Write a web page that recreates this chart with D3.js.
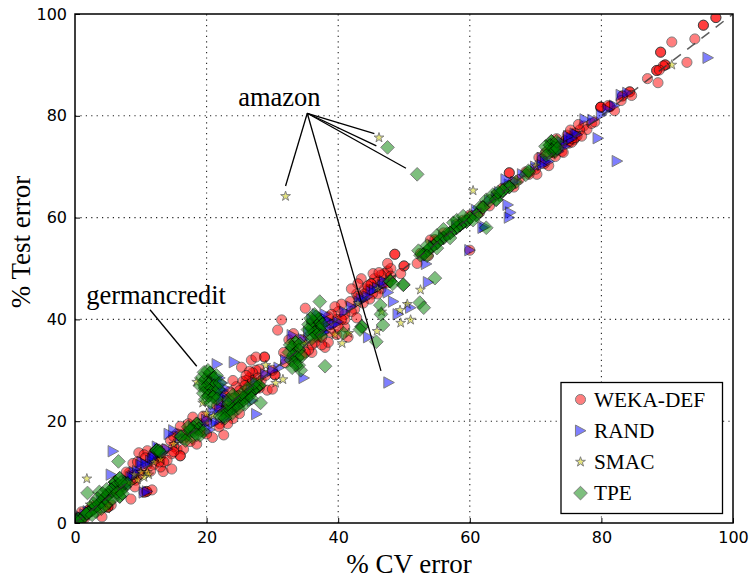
<!DOCTYPE html>
<html>
<head>
<meta charset="utf-8">
<script src="https://cdn.jsdelivr.net/npm/d3@7"></script>
<style>
  html, body { margin: 0; padding: 0; background: #fff; }
  svg { display: block; }
</style>
</head>
<body>
<svg width="751" height="578"></svg>
<script>
// [% CV error, % Test error]. Repeats = darker spots
var wekaDef = [
  [97.4,99.3],[97.4,99.3],[95.5,97.8],[95.5,97.8],[90.7,94.5],[94.2,95.1],[93,90.5],[89,92.5],[89,92.5],[89.7,90],[89.7,90],[89.4,89.8],
  [88.4,88.9],[88.4,88.9],[88.8,89],[87,87.3],[88.6,86.5],[84.3,84.7],[84.3,84.7],[83.2,83.9],[83.2,83.9],[84.6,84],[83,83],[81.3,81.8],[81.3,81.8],
  [79.9,81.7],[79.9,81.7],[79.9,81.7],[82,81],[81,82],[77.3,78],[77.8,77.3],[78.5,78.5],[76.7,77.2],[79,78.8],
  [72.7,72.8],[73.5,74],[74,73],[74.4,75],[75,74.6],[75.2,75.9],[75.8,75.3],[76,76.6],[76.3,76],[74.8,76.2],[75.5,74.8],[75,75],[75.5,75.5],[76,75.7],[74,74.5],[73,72],
  [76.5,78.3],[75.3,77.2],[77,76],[74.2,72.8],[73.2,75.5],[71.5,72.8],[70.5,71.8],[72,70.2],[70.2,68.5],
  [71.3,70.6],[71,71.5],[70,69.5],[69,68.5],[68.5,69],[67.5,67.5],[66.5,67],[66,68.8],[66,68.8],[65,65.8],[64,64.5],[66.7,66],
  [62,62.2],[63,62.3],[61.5,61],[60,60.5],[59,59.5],[58,58.7],[56,57],[55,55.5],[54,55.6],[54.7,55.7],[60,53.6],[52.5,53],[53.7,52.5],[52,51],
  [50,50.5],[50,50.5],[48.6,52.8],[48.6,52.8],[47.5,49.5],[48,50],[47,49],[46.5,48.7],[46,47.5],[45.5,48],[45,47],[45,47],[46.5,46],[46,45],[44.5,45.8],[44,46],[44.5,46.6],[44,45],
  [47.5,51],[49.5,49],[48,48.5],[46.8,47],[45.3,49],[43.5,48],[43,47],[45.2,45],[44.8,44],[43.8,43.2],[42.8,45],[42,46],[47.5,47.2],[46.2,49.2],
  [43,44.5],[42.5,42],[42,41.5],[41.8,43.5],[41,41],[40.5,43],[40,41.5],[39.8,40],[39.5,42.5],[39,41],[38.5,40.5],[38,39.5],[37.5,39],[41.5,36.5],[41,38.5],[39.8,37],[38,34.5],[38.5,35.5],
  [41,40],[42.8,40.3],[40.5,40],[39,39],[40,38.5],[38.8,37.5],[37.5,35],[36.8,36.5],[36,33.5],
  [37.5,36.5],[36.5,35.5],[36,35],[35,42.2],[35.5,34],[35,33.5],[34.5,33],[31.4,39.9],[30.8,37.9],[33.6,34.8],[32.5,36],[33.2,37.2],[34.5,36],[31.7,33.5],[32,31.5],
  [28.8,32.6],[28.8,32.6],[30.4,29.1],[30.4,29.1],[25.3,30.6],[26.8,32],[27.5,32.6],[29.2,26.1],[30,26.3],[28,30.2],[27.5,30],[27,29.5],[26.5,28.5],[26,28],[25.5,27.8],[25.8,27],[27,28],[27.8,28.5],[24.5,26.8],[25,26],[28.3,28],[29,29],[30,30],
  [26.5,29.8],[26,29],[27.2,26.8],[28,26.5],[24,28],[24.8,25],[26.2,26.2],[23.5,25.8],[22.5,24],[24,20.5],[23.2,19.5],[25,21.5],
  [22.8,25],[23,23],[24,24.5],[22,22.5],[21.5,23],[22,19.5],[21.9,18.9],[20.9,16.8],[22.6,17.3],[20,20],[19.5,21],[17.9,20.8],[18.5,15.5],[16.5,16.5],[18,18.5],[19,19.5],[17,18],[15.5,14.5],[15,15],
  [17.2,19.5],[16,19],[15.5,17.5],[14.5,16.2],[15,17],[20,17.5],[19,18],[17.5,16],[16.5,14.5],
  [16,13.2],[16,13.2],[14.7,13.6],[15,14],[13.4,10.1],[14.7,10.6],[13,13],[13.5,14.5],[12.5,13],[12,13.5],[11,14.2],[9.7,13.8],[10.5,13.4],[8.8,11.7],[9.5,12],[10,10.5],[11,11.5],[12,11.5],[13,11],
  [14,12.3],[13.5,12],[12.8,12],[11.5,10.2],[10.7,12.8],[9.8,9.5],[8.2,9.8],[7.8,10],[9.2,8.4],
  [10.9,6.2],[10.9,6.2],[11.7,6.5],[10.5,6],[9.1,7.1],[8.5,4.7],[8.7,8.5],[9,9.5],[7.7,8],[7,7],[6.5,6.5],[6,6.4],[5,5.5],[5.5,3.5],
  [5,3.1],[5,3.1],[4.1,1.2],[3.5,3],[3,3.5],[2.2,2.6],[2,2.5],[1,2.2],[1.5,1],[0.6,0.8],[0.3,0.4],[0.8,0.4],[0.2,1]
];
var rand = [
  [96.2,91.4],[82.4,71.1],[79.5,75.6],[77.5,79.3],[78.7,79.2],[80,80.2],[83,84.1],[82,82],[84,84.5],[81,81.2],[76,76.5],[75,75.2],[74,74.8],[73.5,73],[72,71],[71,71.7],[70,70],[68,68.5],
  [76.3,76.3],[75.5,75.5],[75,76],[74.5,74],[73,73.5],[71.5,71],[71,70.3],[67,67],[66,66.5],[64.5,65],
  [65.8,62.5],[66.2,61],[66,60],[65.5,67.5],[64,64],[62.3,58.2],[62,58],[60,53.6],[63,63.3],[61,61.5],[59,59],[58,58.5],[56,56],[54.5,54.5],[53.7,47.3],[53.4,50.9],
  [51,42.3],[49.1,41],[48.4,43.5],[47.6,45.3],[47.7,27.6],[44.6,36.5],[46.7,46.7],[46,46.2],[45,45.5],[44,44],[43.2,43.5],[42,42.5],[41,41.5],[40,39.5],[39.5,39],[38.5,38.5],[38,37.5],[37.5,38.8],[37.2,40],
  [45.5,45.8],[44.5,44.5],[43.5,44],[47,47.5],[38.5,39.5],[38.2,40],[37.8,37.5],[38,41],
  [36.8,41],[36,40],[35.5,37.5],[34.8,28.5],[33,36.9],[34.7,36.1],[33.5,33],[32,32],[31,30.5],[30,30],[29,29.2],[27.5,27.5],[26.8,26],[27.6,21.4],[27,24],[24.2,31.6],[21.6,31.2],
  [23,20.5],[25,23],[24,22],[22.5,26],[22,28.5],[21.5,28],[21.8,27],[22,25],[22.3,23.5],[21,22],[20,20.3],[21,19.5],[19.5,19.3],[18,18.8],[16,17],[15,18.2],[14.3,17.5],[14,14.5],
  [22.4,27.5],[22.8,26.5],[22.5,25],[22,26.2],[23,22],[22,22.5],[23.2,24],[21.5,20],[20.5,18.3],
  [12.8,14.5],[12.5,15],[13.3,13.8],[12.2,13.5],[11.5,12.2],[10.2,12],[10,11.4],[9,10],[8.5,9],[10.5,6],[11,6.2],[5.8,14.1],[7.5,7.5],[6.8,8],[6,7],[5.5,9.5],[5,5.3],[4,4.4],[3,3.1],[2,2.3],[1,1.2],[0.5,0.4],
  [13,14],[11.8,12.6],[12,13],[10.8,11.5],[9.5,10.2],[8.8,9.2],[8,8.3],[7.8,7.2],[0.8,0.8],[1.5,1.7]
];
var smac = [
  [90.7,90],[46.2,75.7],[32,64.2],[60.5,65.3],[52.5,45.8],[49.4,41.8],[50.5,43],[51,39.9],[49.5,39.3],[45.9,37.7],[46.6,41.5],[40.6,35.3],[41.6,37.3],[39.5,37],[31.6,28.2],[30.5,27.5],[18.5,27.7],[19.4,23.6],[1.8,8.7],
  [72.5,72.3],[70,70.2],[66,66.3],[64,64],[61,61],[58,58],[56,56.2],[53,53],[48,48.2],[46,46],[43,43.2],[37,37],[35,35.2],[33,32.5],[29,31],[28,28],[26,25.5],[25,25],[23,23.5],[21,21],[20,21.5],
  [17,17],[16,16.5],[15,15.5],[13,12.5],[12,12],[11,10],[11.2,9.5],[10.5,9],[10,10],[9.5,8.5],[9,9.5],[8,8],[7,7],[5,3.3],[4.8,2.8],[4,4],[2.3,3.6],[2,2],[1,1]
];
var tpe = [
  [47.5,73.8],[52,68.5],[37.2,43.5],[38,30.8],[28.2,23.6],[40.8,37.3],[43.6,38.6],[43.6,38.6],[43.3,38],[45.8,35.6],[46.4,42.8],[46.5,41],[46.8,38.9],[49.9,46.8],[49.9,46.8],[52.4,43.3],[53,42.3],[54.7,48.1],[47.9,47.5],[47.9,47.5],[48.3,47],
  [72.4,75],[72.4,75],[72.2,74.2],[72.2,74.2],[73,74.2],[72.5,73.2],[72.5,73.2],[73,73],[71.8,73],[72.8,73.7],[69,69],[68.5,68.4],[68.9,69.2],
  [71.5,74],[73.2,75],[71.6,72.2],[73.3,73.6],[62.5,63.5],[63.5,64.5],[64.5,64.5],[65.5,65.8],[67,67],[61.5,62],
  [66,66],[66,66],[65,65.3],[65,65.3],[64,63.5],[64,63.5],[63,63.3],[62.5,58],[62,62],[62,62],[64.3,65],[61,60.5],[61,60.5],
  [60,60],[60,60],[59.5,59.2],[59.5,59.2],[59,59],[58.5,58.5],[58.5,58.5],[58,58],[58,58],[57.5,57.5],[57,57],[57,57],[56.5,56.8],[56,56],[56,56],[55.5,55.7],[55,55],[55,55],[54.5,54.5],[54,54],[54,54],[53.5,53.5],[53,52.8],[53,52.8],[52.5,52.6],[58,59.5],[56,57.7],
  [59,60.3],[57.5,59],[55,56.5],[60.5,59.5],[57,56],[55,54],[53.5,54.5],[52.2,53.5],[53.5,52.5],
  [37,40],[37,40],[36.2,39.5],[36.2,39.5],[36.8,38.8],[36.8,38.8],[36,38.2],[36,38.2],[37.2,38],[37.2,38],[36.4,37.4],[36.4,37.4],[35.8,37],[36.8,37],
  [35.5,39],[35.4,38],[37.6,39],[36.6,40.5],[37.4,36.8],[36,36.2],[36.4,41],[35.8,40.2],
  [33.5,35.5],[33.5,35.5],[33,34.5],[33,34.5],[34,34],[34,34],[33.2,33],[33.2,33],[33.8,32.5],[33.8,32.5],[32.8,32],[33.4,31.5],[34.3,30],[34,31],
  [33.6,31],[32.5,33.5],[34.5,32.8],[32.7,35],[34.2,35.2],[33,30.5],
  [20.5,29.5],[20.5,29.5],[21,28.5],[21,28.5],[19.8,28.2],[19.8,28.2],[20.3,27.3],[20.3,27.3],[21.2,27],[21.2,27],[19.8,26.5],[19.8,26.5],[20.5,26],[20.5,26],[21.3,25.5],[20.3,25],[20.3,25],[21,24.8],[21,24.8],[19.7,27],[21.5,29],
  [19,27],[19.2,28.5],[19.5,25.5],[21.8,26.3],[22,27.5],[20.2,30],[19.6,29.6],[21.6,24.4],[19.8,24.3],[20.6,23.6],
  [28,27],[28,27],[27.5,26.5],[27.5,26.5],[27,26],[27,26],[26.5,25.5],[26.5,25],[26,25],[26,24.5],[25.5,24.5],[25.5,24],[25,24],[25,23.5],[24.5,23.5],[24.5,23],[24,23],[24,22.5],[23.5,22.5],[23.5,22],[23,22],[23,21.5],[22.5,21.5],[22.5,21],[22,21],
  [27.2,27.4],[26.2,26.5],[25.2,25.3],[24.2,24.5],[23.3,23.4],[26.8,24.5],[25.8,23.3],[24.8,22.5],[23.8,21.4],[22.8,20.6],[23.3,24.2],[24,25.2],
  [18.5,19.5],[18.5,19.5],[18.8,18.5],[18.8,18.5],[18,18.8],[18,18],[17.5,18.2],[17.5,18.2],[17,17.2],[16.1,17],[16.1,17],[19.5,18],[12.4,14.3],[12.4,14.3],[12.4,14.3],[13,13.8],[12.8,14.2],
  [17.2,18.9],[19,17.2],[17.8,16.8],[18.5,17.3],[16.8,16.2],
  [6.6,12.1],[1.9,5.9],[3.7,6.1],[6.1,8],[6.1,8],[6.1,8],[6.8,5.2],[6.8,5.2],[6.8,8.8],[6.8,8.8],[6,7],[5.5,6.5],[5.5,6.5],[5,5.5],[5,5.5],[4.5,5],[4.5,5],[4,4.2],[4,4.2],[3.5,3.5],[3.5,3.5],[3,3],[3,3],[2.5,2.5],[2.5,2.5],[2,2],[2,2],[1.7,1.8],[1.7,1.8],
  [7.5,7],[7,6.5],[7.5,7.8],[8,7.8],[0.5,0.8],[0.5,0.8],[0.8,0.5],[0.8,0.5],[0.3,0.3],
  [5.8,4.8],[5.2,4.2],[4.6,3.4],[4,2.8],[3.2,2.2],[2.6,1.6],[4.8,6.6],[4.2,5.8],[3.4,4.8],[2.8,3.8],[6.4,6],[7.2,5.8],[7,8]
];
var seriesNames = ["WEKA-DEF", "RAND", "SMAC", "TPE"];
var tickValues = [0, 20, 40, 60, 80, 100];

// annotation labels and leader lines, in data units
var amazonLabel = [24.8, 81.9];
var amazonFrom = [35.3, 80.5];
var amazonTo = [[45.5,76.5],[45.8,74.1],[50.3,69.7],[32,66.2],[46.5,29.9]];
var germanLabel = [1.7, 43];
var germanFrom = [11.4, 41.9];
var germanTo = [[18.5,30.8]];

var svg = d3.select("svg");
var margin = { left: 75, right: 18, top: 14, bottom: 55 };
var width = +svg.attr("width");
var height = +svg.attr("height");

var x = d3.scaleLinear().domain([0, 100]).range([margin.left, width - margin.right]);
var y = d3.scaleLinear().domain([0, 100]).range([height - margin.bottom, margin.top]);

var serif = "'Liberation Serif', serif";
var sans = "'DejaVu Sans', sans-serif";

// marker shapes, matplotlib style
var triRight = { draw: function (c, s) { var r = Math.sqrt(s); c.moveTo(-r * 0.55, -r * 0.62); c.lineTo(r * 0.6, 0); c.lineTo(-r * 0.55, r * 0.62); c.closePath(); } };
var diamond = { draw: function (c, s) { var r = Math.sqrt(s) * 0.72; c.moveTo(0, -r); c.lineTo(r, 0); c.lineTo(0, r); c.lineTo(-r, 0); c.closePath(); } };

var styles = [
  { data: wekaDef, path: d3.symbol(d3.symbolCircle, 80)(), fill: "#ff0000" },
  { data: rand, path: d3.symbol(triRight, 84)(), fill: "#0000ff" },
  { data: smac, path: d3.symbol(d3.symbolStar, 30)(), fill: "#cccc00" },
  { data: tpe, path: d3.symbol(diamond, 90)(), fill: "#008000" }
];

// grid
var grid = svg.append("g").attr("stroke", "#222").attr("stroke-width", 1.1).attr("stroke-dasharray", "1.2,4.2");
grid.selectAll(".gx").data(tickValues.slice(1, -1)).enter().append("line")
  .attr("x1", d => x(d)).attr("x2", d => x(d)).attr("y1", y(0)).attr("y2", y(100));
grid.selectAll(".gy").data(tickValues.slice(1, -1)).enter().append("line")
  .attr("y1", d => y(d)).attr("y2", d => y(d)).attr("x1", x(0)).attr("x2", x(100));

// points, clipped to the axes
svg.append("clipPath").attr("id", "plot").append("rect")
  .attr("x", x(0)).attr("y", y(100)).attr("width", x(100) - x(0)).attr("height", y(0) - y(100));
var plot = svg.append("g").attr("clip-path", "url(#plot)");

styles.forEach(function (s) {
  plot.append("g").selectAll("path").data(s.data).enter().append("path")
    .attr("d", s.path)
    .attr("transform", d => "translate(" + x(d[0]) + "," + y(d[1]) + ")")
    .attr("fill", s.fill)
    .attr("stroke", "#000")
    .attr("stroke-width", 1)
    .attr("opacity", 0.5);
});

// diagonal
plot.append("line")
  .attr("x1", x(0)).attr("y1", y(0)).attr("x2", x(100)).attr("y2", y(100))
  .attr("stroke", "#333").attr("stroke-opacity", 0.8).attr("stroke-width", 1.5).attr("stroke-dasharray", "10,8");

// axes
var xAxis = d3.axisBottom(x).tickValues(tickValues).tickSize(-5).tickPadding(9).tickFormat(d3.format("d"));
var yAxis = d3.axisLeft(y).tickValues(tickValues).tickSize(-5).tickPadding(8).tickFormat(d3.format("d"));
[svg.append("g").attr("transform", "translate(0," + y(0) + ")").call(xAxis),
 svg.append("g").attr("transform", "translate(" + x(0) + ",0)").call(yAxis)].forEach(function (g) {
  g.select(".domain").remove();
  g.selectAll("line").attr("stroke", "#000");
  g.selectAll("text").attr("font-family", sans).attr("font-size", 16).attr("fill", "#000");
});
svg.append("rect")
  .attr("x", x(0)).attr("y", y(100)).attr("width", x(100) - x(0)).attr("height", y(0) - y(100))
  .attr("fill", "none").attr("stroke", "#000").attr("stroke-width", 1.5);

svg.append("text").attr("x", 409).attr("y", 573)
  .attr("text-anchor", "middle").attr("font-family", serif).attr("font-size", 27).text("% CV error");
svg.append("text").attr("transform", "translate(30,242) rotate(-90)")
  .attr("text-anchor", "middle").attr("font-family", serif).attr("font-size", 27).text("% Test error");

// annotations
function annotate(label, text, from, to) {
  svg.append("text").attr("x", x(label[0])).attr("y", y(label[1]))
    .attr("font-family", serif).attr("font-size", 26.5).text(text);
  svg.append("g").selectAll("line").data(to).enter().append("line")
    .attr("x1", x(from[0])).attr("y1", y(from[1]))
    .attr("x2", d => x(d[0])).attr("y2", d => y(d[1]))
    .attr("stroke", "#000").attr("stroke-width", 1.3);
}
annotate(amazonLabel, "amazon", amazonFrom, amazonTo);
annotate(germanLabel, "germancredit", germanFrom, germanTo);

// legend
var legend = svg.append("g").attr("transform", "translate(561,382.5)");
legend.append("rect").attr("width", 161.5).attr("height", 131)
  .attr("fill", "#fff").attr("stroke", "#000").attr("stroke-width", 1.3);
seriesNames.forEach(function (name, i) {
  var row = legend.append("g").attr("transform", "translate(0," + (17 + i * 31.2) + ")");
  row.append("path").attr("d", styles[i].path).attr("transform", "translate(19.5,0)")
    .attr("fill", styles[i].fill).attr("stroke", "#000").attr("stroke-width", 1).attr("opacity", 0.5);
  row.append("text").attr("x", 33).attr("y", 7).attr("font-family", serif).attr("font-size", 21.3).text(name);
});
</script>
</body>
</html>
